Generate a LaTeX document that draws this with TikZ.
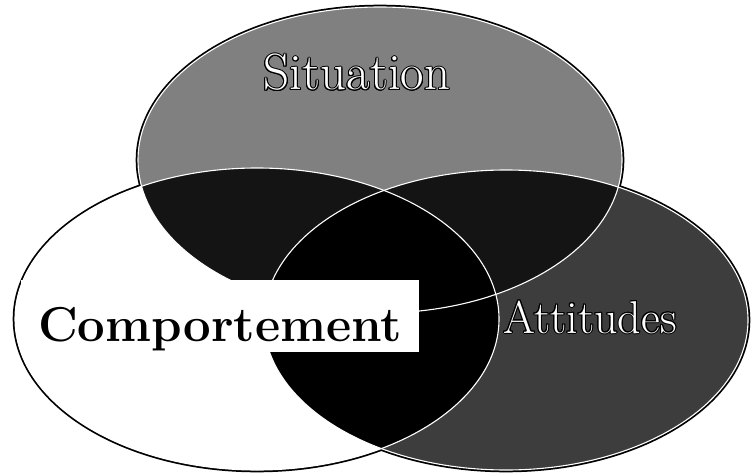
\documentclass[tikz,border=0pt]{standalone}
\usepackage{xcolor}
\usepackage{tikz}
\usepackage{contour}
\contourlength{1pt}

\begin{document}
\begin{tikzpicture}[
  x=1pt, y=-1pt,
  rim/.style={draw=black, line width=4.6pt},
  seam/.style={draw=white, line width=1.1pt},
  label/.style={anchor=base, inner sep=0pt},
  every node/.style={font=\rmfamily},
]
  \useasboundingbox (0,0) rectangle (751,473);

  % the three sets
  \def\sitshape{(380,160) ellipse [x radius=242pt, y radius=153pt]}
  \def\compshape{(257,319) ellipse [x radius=242pt, y radius=151pt]}
  \def\attshape{(506,320) ellipse [x radius=242pt, y radius=150pt]}

  \path[rim] \sitshape;
  \path[rim] \compshape;
  \path[rim] \attshape;

  \fill[black!50] \sitshape;
  \fill[black!76] \attshape;
  \fill[white] \compshape;

  % overlaps
  \begin{scope}
    \clip \sitshape;
    \fill[black!92] \compshape;
    \fill[black!92] \attshape;
  \end{scope}
  \begin{scope}
    \clip \compshape;
    \fill[black] \attshape;
  \end{scope}

  \path[seam] \sitshape;
  \path[seam] \compshape;
  \path[seam] \attshape;

  % labels
  \node[label] (sit) at (357,90) {\fontsize{51}{51}\selectfont\contour{black}{\textcolor{white}{Situation}}};
  \node[label] (att) at (590,333) {\fontsize{46}{46}\selectfont\contour{black}{\textcolor{white}{Attitudes}}};
  \node[label, fill=white, text height=61pt, text depth=11pt, minimum width=398pt] (comp) at (220,341)
    {\fontsize{49}{49}\selectfont\bfseries Comportement};
\end{tikzpicture}
\end{document}
